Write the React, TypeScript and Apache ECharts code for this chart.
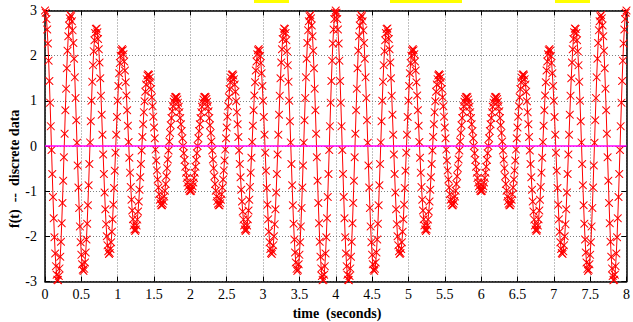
import React, { useEffect, useRef } from "react";
import * as echarts from "echarts";

// sampling interval of the discrete data (seconds)
const SAMPLE_STEP = 0.01;

// f(t) samples, t = 0 .. 2 s
const seg0to2 = [
  3.00, 2.95, 2.81, 2.58, 2.27, 1.89, 1.44, 0.96, 0.44, -0.09,
  -0.62, -1.13, -1.60, -2.02, -2.38, -2.66, -2.85, -2.96, -2.97, -2.88,
  -2.71, -2.45, -2.12, -1.71, -1.26, -0.77, -0.25, 0.27, 0.79, 1.27,
  1.72, 2.11, 2.43, 2.67, 2.83, 2.90, 2.87, 2.76, 2.56, 2.28,
  1.93, 1.52, 1.06, 0.57, 0.07, -0.43, -0.92, -1.37, -1.78, -2.13,
  -2.41, -2.62, -2.74, -2.77, -2.72, -2.58, -2.36, -2.07, -1.72, -1.31,
  -0.87, -0.40, 0.08, 0.55, 1.00, 1.42, 1.79, 2.10, 2.34, 2.50,
  2.59, 2.60, 2.52, 2.37, 2.14, 1.85, 1.50, 1.11, 0.69, 0.25,
  -0.19, -0.62, -1.03, -1.40, -1.73, -2.00, -2.20, -2.33, -2.39, -2.37,
  -2.28, -2.13, -1.90, -1.62, -1.30, -0.93, -0.55, -0.15, 0.25, 0.64,
  1.00, 1.33, 1.61, 1.84, 2.00, 2.11, 2.15, 2.12, 2.03, 1.87,
  1.67, 1.41, 1.12, 0.79, 0.45, 0.09, -0.26, -0.59, -0.91, -1.19,
  -1.43, -1.62, -1.76, -1.85, -1.88, -1.85, -1.76, -1.63, -1.45, -1.23,
  -0.97, -0.69, -0.40, -0.10, 0.20, 0.48, 0.75, 0.99, 1.20, 1.36,
  1.48, 1.56, 1.59, 1.57, 1.51, 1.41, 1.26, 1.08, 0.88, 0.65,
  0.41, 0.17, -0.08, -0.32, -0.54, -0.74, -0.92, -1.07, -1.19, -1.27,
  -1.31, -1.31, -1.28, -1.22, -1.12, -0.99, -0.84, -0.67, -0.49, -0.30,
  -0.10, 0.10, 0.29, 0.46, 0.62, 0.77, 0.88, 0.98, 1.04, 1.08,
  1.09, 1.08, 1.03, 0.96, 0.87, 0.75, 0.62, 0.48, 0.33, 0.17,
  0.00, -0.16, -0.31, -0.46, -0.59, -0.71, -0.81, -0.89, -0.95, -0.99,
  -1.00,
];

// f(t) samples, t = 2.01 .. 4 s
const seg2to4 = [
  -0.99, -0.95, -0.89, -0.81, -0.71, -0.59, -0.46, -0.31, -0.16, 0.00,
  0.17, 0.33, 0.48, 0.62, 0.75, 0.87, 0.96, 1.03, 1.08, 1.09,
  1.08, 1.04, 0.98, 0.88, 0.77, 0.62, 0.46, 0.29, 0.10, -0.10,
  -0.30, -0.49, -0.67, -0.84, -0.99, -1.12, -1.22, -1.28, -1.31, -1.31,
  -1.27, -1.19, -1.07, -0.92, -0.74, -0.54, -0.32, -0.08, 0.17, 0.41,
  0.65, 0.88, 1.08, 1.26, 1.41, 1.51, 1.57, 1.59, 1.56, 1.48,
  1.36, 1.20, 0.99, 0.75, 0.48, 0.20, -0.10, -0.40, -0.69, -0.97,
  -1.23, -1.45, -1.63, -1.76, -1.85, -1.88, -1.85, -1.76, -1.62, -1.43,
  -1.19, -0.91, -0.59, -0.26, 0.09, 0.45, 0.79, 1.12, 1.41, 1.67,
  1.87, 2.03, 2.12, 2.15, 2.11, 2.00, 1.84, 1.61, 1.33, 1.00,
  0.64, 0.25, -0.15, -0.55, -0.93, -1.30, -1.62, -1.90, -2.13, -2.28,
  -2.37, -2.39, -2.33, -2.20, -2.00, -1.73, -1.40, -1.03, -0.62, -0.19,
  0.25, 0.69, 1.11, 1.50, 1.85, 2.14, 2.37, 2.52, 2.60, 2.59,
  2.50, 2.34, 2.10, 1.79, 1.42, 1.00, 0.55, 0.08, -0.40, -0.87,
  -1.31, -1.72, -2.07, -2.36, -2.58, -2.72, -2.77, -2.74, -2.62, -2.41,
  -2.13, -1.78, -1.37, -0.92, -0.43, 0.07, 0.57, 1.06, 1.52, 1.93,
  2.28, 2.56, 2.76, 2.87, 2.90, 2.83, 2.67, 2.43, 2.11, 1.72,
  1.27, 0.79, 0.27, -0.25, -0.77, -1.26, -1.71, -2.12, -2.45, -2.71,
  -2.88, -2.97, -2.96, -2.85, -2.66, -2.38, -2.02, -1.60, -1.13, -0.62,
  -0.09, 0.44, 0.96, 1.44, 1.89, 2.27, 2.58, 2.81, 2.95, 3.00,
];

// f(t) samples, t = 4.01 .. 6 s
const seg4to6 = [
  2.95, 2.81, 2.58, 2.27, 1.89, 1.44, 0.96, 0.44, -0.09,
  -0.62, -1.13, -1.60, -2.02, -2.38, -2.66, -2.85, -2.96, -2.97, -2.88,
  -2.71, -2.45, -2.12, -1.71, -1.26, -0.77, -0.25, 0.27, 0.79, 1.27,
  1.72, 2.11, 2.43, 2.67, 2.83, 2.90, 2.87, 2.76, 2.56, 2.28,
  1.93, 1.52, 1.06, 0.57, 0.07, -0.43, -0.92, -1.37, -1.78, -2.13,
  -2.41, -2.62, -2.74, -2.77, -2.72, -2.58, -2.36, -2.07, -1.72, -1.31,
  -0.87, -0.40, 0.08, 0.55, 1.00, 1.42, 1.79, 2.10, 2.34, 2.50,
  2.59, 2.60, 2.52, 2.37, 2.14, 1.85, 1.50, 1.11, 0.69, 0.25,
  -0.19, -0.62, -1.03, -1.40, -1.73, -2.00, -2.20, -2.33, -2.39, -2.37,
  -2.28, -2.13, -1.90, -1.62, -1.30, -0.93, -0.55, -0.15, 0.25, 0.64,
  1.00, 1.33, 1.61, 1.84, 2.00, 2.11, 2.15, 2.12, 2.03, 1.87,
  1.67, 1.41, 1.12, 0.79, 0.45, 0.09, -0.26, -0.59, -0.91, -1.19,
  -1.43, -1.62, -1.76, -1.85, -1.88, -1.85, -1.76, -1.63, -1.45, -1.23,
  -0.97, -0.69, -0.40, -0.10, 0.20, 0.48, 0.75, 0.99, 1.20, 1.36,
  1.48, 1.56, 1.59, 1.57, 1.51, 1.41, 1.26, 1.08, 0.88, 0.65,
  0.41, 0.17, -0.08, -0.32, -0.54, -0.74, -0.92, -1.07, -1.19, -1.27,
  -1.31, -1.31, -1.28, -1.22, -1.12, -0.99, -0.84, -0.67, -0.49, -0.30,
  -0.10, 0.10, 0.29, 0.46, 0.62, 0.77, 0.88, 0.98, 1.04, 1.08,
  1.09, 1.08, 1.03, 0.96, 0.87, 0.75, 0.62, 0.48, 0.33, 0.17,
  0.00, -0.16, -0.31, -0.46, -0.59, -0.71, -0.81, -0.89, -0.95, -0.99,
  -1.00,
];

// f(t) samples, t = 6.01 .. 8 s
const seg6to8 = [
  -0.99, -0.95, -0.89, -0.81, -0.71, -0.59, -0.46, -0.31, -0.16, 0.00,
  0.17, 0.33, 0.48, 0.62, 0.75, 0.87, 0.96, 1.03, 1.08, 1.09,
  1.08, 1.04, 0.98, 0.88, 0.77, 0.62, 0.46, 0.29, 0.10, -0.10,
  -0.30, -0.49, -0.67, -0.84, -0.99, -1.12, -1.22, -1.28, -1.31, -1.31,
  -1.27, -1.19, -1.07, -0.92, -0.74, -0.54, -0.32, -0.08, 0.17, 0.41,
  0.65, 0.88, 1.08, 1.26, 1.41, 1.51, 1.57, 1.59, 1.56, 1.48,
  1.36, 1.20, 0.99, 0.75, 0.48, 0.20, -0.10, -0.40, -0.69, -0.97,
  -1.23, -1.45, -1.63, -1.76, -1.85, -1.88, -1.85, -1.76, -1.62, -1.43,
  -1.19, -0.91, -0.59, -0.26, 0.09, 0.45, 0.79, 1.12, 1.41, 1.67,
  1.87, 2.03, 2.12, 2.15, 2.11, 2.00, 1.84, 1.61, 1.33, 1.00,
  0.64, 0.25, -0.15, -0.55, -0.93, -1.30, -1.62, -1.90, -2.13, -2.28,
  -2.37, -2.39, -2.33, -2.20, -2.00, -1.73, -1.40, -1.03, -0.62, -0.19,
  0.25, 0.69, 1.11, 1.50, 1.85, 2.14, 2.37, 2.52, 2.60, 2.59,
  2.50, 2.34, 2.10, 1.79, 1.42, 1.00, 0.55, 0.08, -0.40, -0.87,
  -1.31, -1.72, -2.07, -2.36, -2.58, -2.72, -2.77, -2.74, -2.62, -2.41,
  -2.13, -1.78, -1.37, -0.92, -0.43, 0.07, 0.57, 1.06, 1.52, 1.93,
  2.28, 2.56, 2.76, 2.87, 2.90, 2.83, 2.67, 2.43, 2.11, 1.72,
  1.27, 0.79, 0.27, -0.25, -0.77, -1.26, -1.71, -2.12, -2.45, -2.71,
  -2.88, -2.97, -2.96, -2.85, -2.66, -2.38, -2.02, -1.60, -1.13, -0.62,
  -0.09, 0.44, 0.96, 1.44, 1.89, 2.27, 2.58, 2.81, 2.95, 3.00,
];

// reference zero line
const zeroLineT = [0, 8];
const zeroLineV = [0, 0];

const xLabel = "time  (seconds)";
const yLabel = "f(t)  --  discrete data";

const X_MARK =
  "path://M0,0L0.9,0L5,4.1L9.1,0L10,0L10,0.9L5.9,5L10,9.1L10,10L9.1,10L5,5.9L0.9,10L0,10L0,9.1L4.1,5L0,0.9Z";

const SERIF = "Liberation Serif";

export default function App() {
  const ref = useRef<HTMLDivElement>(null);

  useEffect(() => {
    if (!ref.current) return;
    const chart = echarts.init(ref.current, undefined, { renderer: "svg" });

    const values = [...seg0to2, ...seg2to4, ...seg4to6, ...seg6to8];
    const points = values.map((v, i) => [+(i * SAMPLE_STEP).toFixed(2), v]);
    const zeroPts = zeroLineT.map((t, i) => [t, zeroLineV[i]]);

    const frameLine = { show: true, onZero: false, lineStyle: { color: "#000", width: 1.5 } };
    const inTick = { show: true, inside: true, length: 5, lineStyle: { color: "#000", width: 1 } };
    const grid = { show: true, lineStyle: { color: "#808080", width: 1, type: [1, 2] as any } };

    chart.setOption({
      animation: false,
      backgroundColor: "#fff",
      textStyle: { fontFamily: SERIF },
      grid: { left: 45, right: 4, top: 10.5, bottom: 40.5, containLabel: false },
      xAxis: [
        {
          type: "value",
          min: 0,
          max: 8,
          interval: 0.5,
          position: "bottom",
          axisLine: frameLine,
          axisTick: inTick,
          axisLabel: { color: "#000", fontFamily: SERIF, fontSize: 14, margin: 6 },
          splitLine: grid,
        },
        {
          type: "value",
          min: 0,
          max: 8,
          interval: 0.5,
          position: "top",
          axisLine: frameLine,
          axisTick: inTick,
          axisLabel: { show: false },
          splitLine: { show: false },
        },
      ],
      yAxis: [
        {
          type: "value",
          min: -3,
          max: 3,
          interval: 1,
          position: "left",
          axisLine: frameLine,
          axisTick: inTick,
          axisLabel: { color: "#000", fontFamily: SERIF, fontSize: 14, margin: 8 },
          splitLine: grid,
        },
        {
          type: "value",
          min: -3,
          max: 3,
          interval: 1,
          position: "right",
          axisLine: frameLine,
          axisTick: inTick,
          axisLabel: { show: false },
          splitLine: { show: false },
        },
      ],
      series: [
        {
          type: "line",
          name: "f(t)",
          xAxisIndex: 0,
          yAxisIndex: 0,
          data: points,
          symbol: X_MARK,
          symbolSize: 8,
          showSymbol: true,
          showAllSymbol: true,
          lineStyle: { color: "#ff0000", width: 1 },
          itemStyle: { color: "#ff0000" },
          z: 3,
        },
        {
          type: "line",
          name: "zero",
          xAxisIndex: 0,
          yAxisIndex: 0,
          data: zeroPts,
          symbol: "none",
          lineStyle: { color: "#ff00ff", width: 1.5 },
          z: 4,
        },
      ],
      graphic: [
        { type: "rect", shape: { x: 254, y: 0, width: 35, height: 3 }, style: { fill: "#ffff00" } },
        { type: "rect", shape: { x: 390, y: 0, width: 72, height: 3 }, style: { fill: "#ffff00" } },
        { type: "rect", shape: { x: 555, y: 0, width: 35, height: 3 }, style: { fill: "#ffff00" } },
        {
          type: "text",
          x: 337,
          y: 313,
          style: {
            text: xLabel,
            fontFamily: SERIF,
            fontSize: 14,
            fontWeight: "bold",
            fill: "#000",
            align: "center",
            verticalAlign: "middle",
          },
        },
        {
          type: "text",
          x: 14,
          y: 228,
          rotation: Math.PI / 2,
          style: {
            text: yLabel,
            fontFamily: SERIF,
            fontSize: 14,
            fontWeight: "bold",
            fill: "#000",
            align: "left",
            verticalAlign: "middle",
          },
        },
      ],
    });

    return () => chart.dispose();
  }, []);

  return (
    <div
      ref={ref}
      style={{ position: "fixed", left: 0, top: 0, width: 633, height: 322, background: "#fff" }}
    />
  );
}
